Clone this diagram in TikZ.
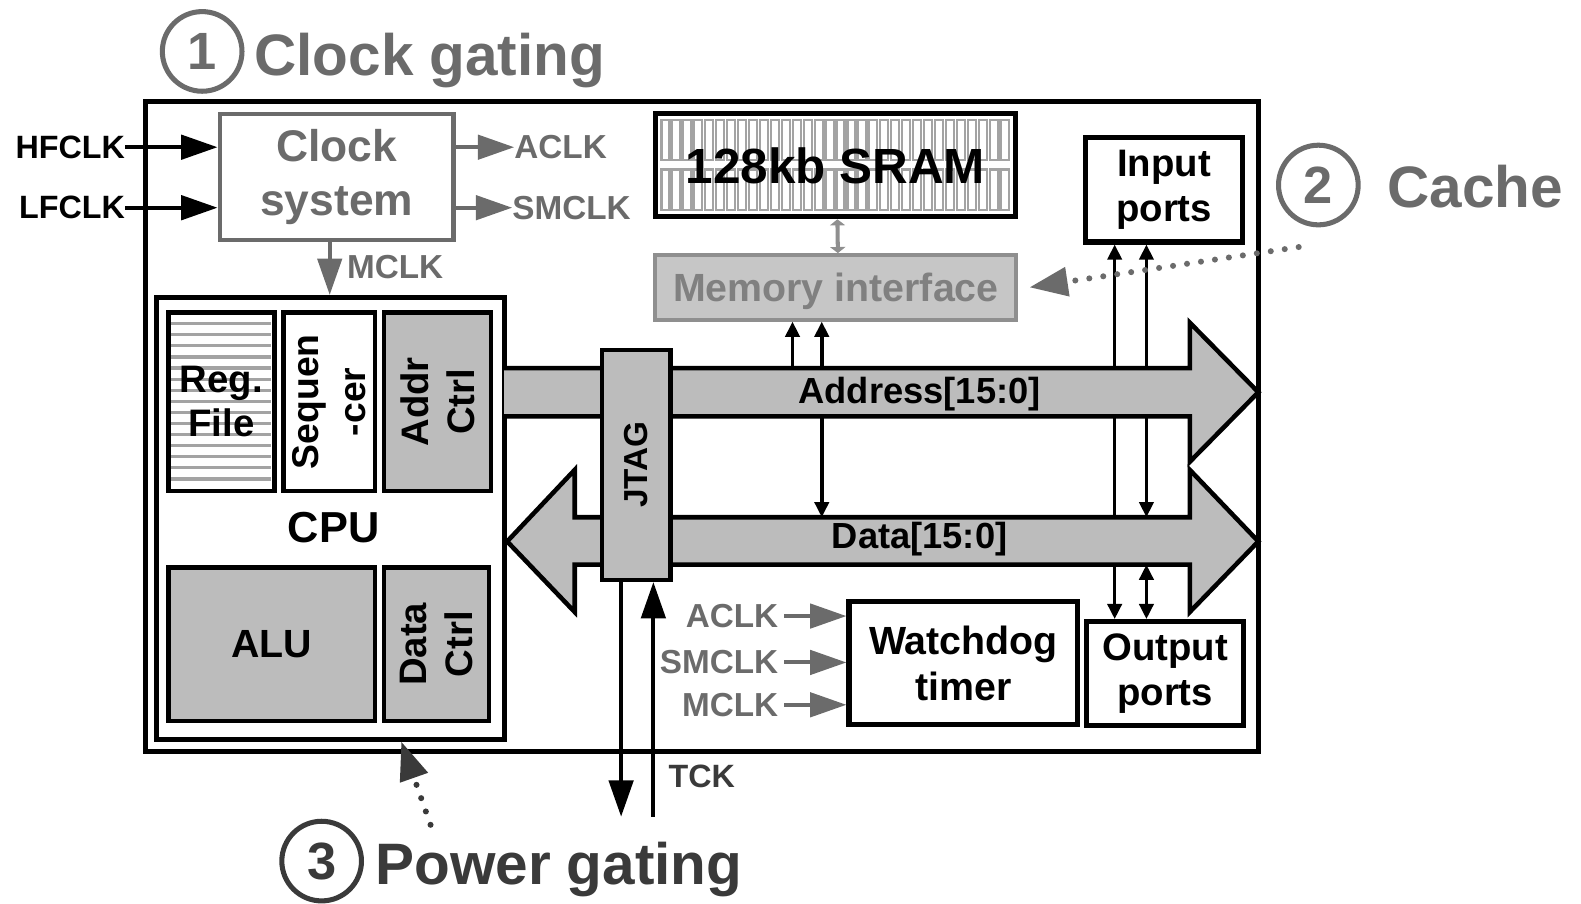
\documentclass[tikz,border=0pt]{standalone}
\usepackage{fontspec}
\setmainfont{Liberation Sans}
\usetikzlibrary{arrows.meta,positioning}

\definecolor{clkgray}{HTML}{6B6B6B}
\definecolor{busgray}{HTML}{BCBCBC}
\definecolor{memfill}{HTML}{C6C6C6}
\definecolor{memline}{HTML}{8F8F8F}
\definecolor{memtext}{HTML}{808080}
\definecolor{pwrgray}{HTML}{3A3A3A}
\definecolor{hatchgray}{HTML}{A3A3A3}

\newcommand{\blkfont}[2]{\fontsize{#1}{#2}\selectfont\bfseries}

\begin{document}
\begin{tikzpicture}[x=1pt, y=-1pt,
    blk/.style={draw, line width=4.5pt, inner sep=0pt, align=center, font=\blkfont{39}{45}},
    gblk/.style={blk, fill=busgray},
    lbl/.style={inner sep=0pt, align=center, font=\blkfont{33}{36}},
    vlbl/.style={lbl, rotate=90, font=\blkfont{38}{46}},
    bigarr/.style={line width=4pt, -{Triangle[length=36pt,width=24pt]}},
    smallarr/.style={line width=3.5pt, -{Triangle[length=15pt,width=14pt]}},
    dblarr/.style={line width=3.5pt, {Triangle[length=15pt,width=14pt]}-{Triangle[length=15pt,width=14pt]}},
    bus/.style={draw, fill=busgray, line width=4.5pt, line join=miter},
    tagcirc/.style={circle, draw, line width=5pt, minimum size=79pt, inner sep=0pt, font=\blkfont{52}{52}},
    tagtxt/.style={inner sep=0pt, anchor=base west, font=\blkfont{58}{60}},
    dotarr/.style={line width=6pt, line cap=round, dash pattern=on 0pt off 14pt, -{Triangle[length=38pt,width=28pt]}}]

    \useasboundingbox (0,0) rectangle (1568,896);

    % chip and CPU
    \node[draw, line width=5pt, minimum width=1104pt, minimum height=644pt, inner sep=0pt] (chip) at (696,423) {};
    \node[blk, draw=clkgray, text=clkgray, minimum width=232pt, minimum height=125pt, font=\blkfont{44}{53}] (clk) at (334,175.5) {Clock\\system};
    \node[blk, line width=5pt, minimum width=345pt, minimum height=438pt] (cpu) at (327.5,514) {};

    \foreach \y in {321,332,...,475}
        \draw[hatchgray, line width=3.2pt] (170,\y) -- (269,\y);
    \node[blk, minimum width=105pt, minimum height=177pt, font=\blkfont{38}{44}] (reg) at (219.5,398.5) {Reg.\\File};
    \node[blk, fill=white, minimum width=91pt, minimum height=177pt] (seq) at (326.5,398.5) {};
    \node[gblk, minimum width=106pt, minimum height=177pt] (addr) at (434,398.5) {};
    \node[gblk, minimum width=205pt, minimum height=152pt] (alu) at (269.5,639) {ALU};
    \node[gblk, minimum width=104pt, minimum height=152pt] (datc) at (433,639) {};
    \node[vlbl, font=\blkfont{37}{47}] (seqlbl) at (seq) {Sequen\\-cer};
    \node[vlbl] (addrlbl) at (addr) {Addr\\Ctrl};
    \node[vlbl] (datclbl) at (datc) {Data\\Ctrl};
    \node[lbl, font=\blkfont{43}{45}] (cpulbl) at (331,523) {CPU};

    % memory
    \foreach \i in {0,...,31} {
        \draw[hatchgray, line width=2.2pt] (656+\i*10.85,119) rectangle ++(8,40);
        \draw[hatchgray, line width=2.2pt] (656+\i*10.85,168) rectangle ++(8,40);
    }
    \node[blk, line width=5pt, minimum width=357pt, minimum height=102pt, font=\blkfont{49}{50}] (sram) at (828.5,164) {128kb SRAM};
    \node[blk, draw=memline, fill=memfill, text=memtext, line width=4pt, minimum width=358pt, minimum height=64pt, text depth=0pt] (mem) at (829,285) {Memory interface};
    \draw[memline, line width=4pt, {Triangle[length=6pt,width=15pt]}-{Triangle[length=6pt,width=15pt]}] ([xshift=2pt]sram.south) -- ([xshift=2pt]mem.north);

    % ports and timer
    \node[blk, line width=5pt, minimum width=156pt, minimum height=104pt, font=\blkfont{38}{45}] (inp) at (1154.5,188) {Input\\ports};
    \node[blk, line width=5pt, minimum width=155pt, minimum height=103pt, font=\blkfont{38}{45}] (outp) at (1155.5,668) {Output\\ports};
    \node[blk, line width=5pt, minimum width=227pt, minimum height=122pt, font=\blkfont{39}{46}] (wdt) at (955.5,658) {Watchdog\\timer};

    % bus taps
    \coordinate (abtop) at (0,365);
    \coordinate (abbot) at (0,413);
    \coordinate (dbtop) at (0,513);
    \coordinate (dbbot) at (0,560);
    \coordinate (ma) at ([xshift=-43pt]mem.south);
    \coordinate (mb) at ([xshift=-14pt]mem.south);
    \coordinate (pa) at ([xshift=-49pt]inp.south);
    \coordinate (pb) at ([xshift=-17.5pt]inp.south);
    \draw[smallarr] (ma |- abtop) -- (ma);
    \draw[smallarr] (mb |- abtop) -- (mb);
    \draw[smallarr] (mb |- abbot) -- (mb |- dbtop);
    \draw[dblarr] (pa) -- (pa |- outp.north);
    \draw[dblarr] (pb) -- (pb |- dbtop);
    \draw[dblarr] (pb |- dbbot) -- (pb |- outp.north);

    % buses
    \draw[bus] (500,365) -- (1180,365) -- (1180,320) -- (1248,389) -- (1180,458) -- (1180,413) -- (500,413);
    \draw[bus] (503,537) -- (570,466) -- (570,513) -- (1180,513) -- (1180,466) -- (1248,537)
        -- (1180,607) -- (1180,560) -- (570,560) -- (570,607) -- cycle;
    \node[lbl, anchor=base, font=\blkfont{36}{40}] (abuslbl) at (912,400) {Address[15:0]};
    \node[lbl, anchor=base, font=\blkfont{36}{40}] (dbuslbl) at (912,543.5) {Data[15:0]};

    % JTAG
    \node[gblk, minimum width=68pt, minimum height=228pt] (jtag) at (631,461) {};
    \node[vlbl, font=\blkfont{33}{36}] (jtaglbl) at (jtag) {JTAG};
    \coordinate (tdo) at (616,810);
    \coordinate (tck) at (648,810);
    \draw[bigarr] (jtag.south -| tdo) -- (tdo);
    \draw[bigarr] (tck) -- (jtag.south -| tck);
    \node[lbl, anchor=west, font=\blkfont{32}{34}, text=pwrgray] (tcklbl) at (663,770) {TCK};

    % clocks
    \node[lbl, anchor=east, font=\blkfont{32}{34}] (hf) at (124,146) {HFCLK};
    \node[lbl, anchor=east, font=\blkfont{32}{34}] (lf) at (124,206) {LFCLK};
    \draw[bigarr] (hf.east) -- (hf.east -| clk.west);
    \draw[bigarr] (lf.east) -- (lf.east -| clk.west);
    \node[lbl, anchor=west, text=clkgray] (aclk) at (510,146) {ACLK};
    \node[lbl, anchor=west, text=clkgray] (smclk) at (508,206) {SMCLK};
    \draw[bigarr, clkgray] (aclk.west -| clk.east) -- (aclk.west);
    \draw[bigarr, clkgray] (smclk.west -| clk.east) -- (smclk.west);
    \coordinate (mc) at ([xshift=-7pt]clk.south);
    \draw[bigarr, clkgray] (mc) -- (mc |- cpu.north);
    \node[lbl, anchor=west, text=clkgray] (mclk) at (344,265) {MCLK};

    \node[lbl, anchor=east, text=clkgray] (wa) at (772,611) {ACLK};
    \node[lbl, anchor=east, text=clkgray] (ws) at (772,657) {SMCLK};
    \node[lbl, anchor=east, text=clkgray] (wm) at (772,699) {MCLK};
    \foreach \w in {wa,ws,wm}
        \draw[bigarr, clkgray] ([xshift=6pt]\w.east) -- (\w.east -| wdt.west);

    % techniques
    \node[tagcirc, draw=clkgray, text=clkgray] (t1) at (200.5,51) {1};
    \node[tagtxt, text=clkgray] (t1txt) at (252,74.5) {Clock gating};
    \node[tagcirc, draw=clkgray, text=clkgray] (t2) at (1307.5,183.5) {2};
    \node[tagtxt, text=clkgray] (t2txt) at (1376,206) {Cache};
    \node[tagcirc, draw=pwrgray, text=pwrgray] (t3) at (319,854) {3};
    \node[tagtxt, text=pwrgray] (t3txt) at (372,877) {Power gating};

    \coordinate (cachetail) at (1288,245);
    \draw[dotarr, clkgray] (cachetail) -- ([xshift=11pt]mem.east);
    \coordinate (pwrtail) at (427,818);
    \draw[dotarr, pwrgray] (pwrtail) -- ([xshift=70.5pt]cpu.south);
\end{tikzpicture}
\end{document}
